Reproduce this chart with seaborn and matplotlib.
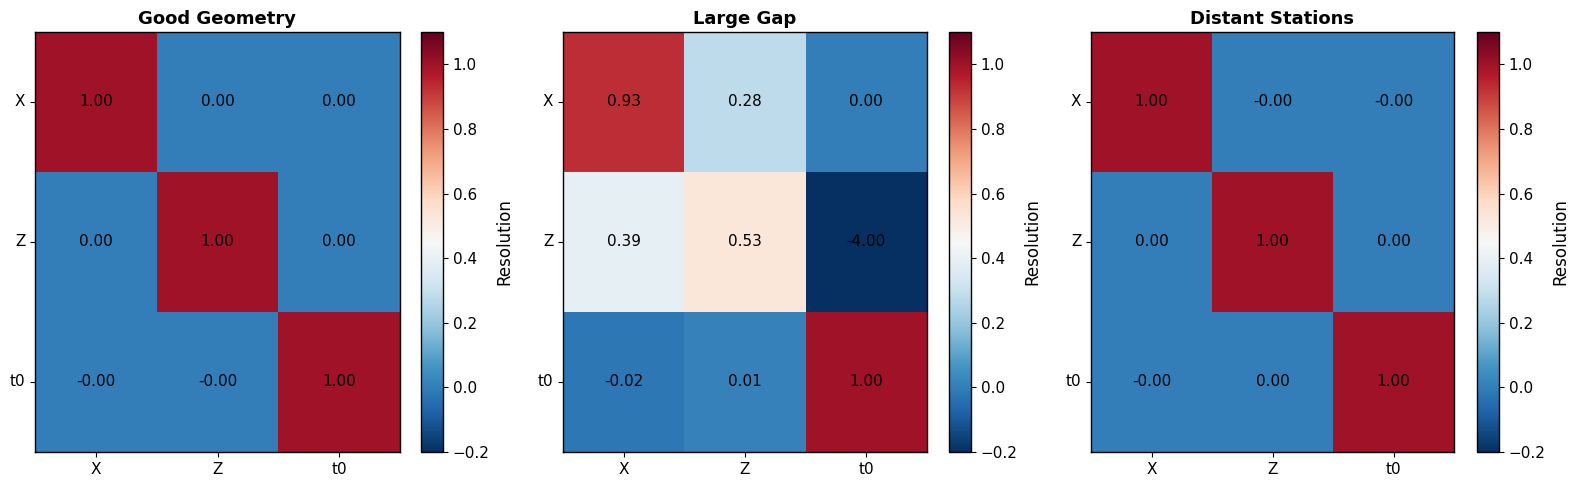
import numpy as np
import pandas as pd
import matplotlib
matplotlib.use("Agg")
import matplotlib.pyplot as plt
import seaborn as sns

params = ["X", "Z", "t0"]
titles = ["Good Geometry", "Large Gap", "Distant Stations"]

good_geometry = [[1.00, 0.00, 0.00],
                 [0.00, 1.00, 0.00],
                 [-0.001, -0.001, 1.00]]
large_gap = [[0.93, 0.28, 0.00],
             [0.39, 0.53, -4.00],
             [-0.02, 0.01, 1.00]]
distant_stations = [[1.00, -0.001, -0.001],
                    [0.00, 1.00, 0.00],
                    [-0.001, 0.00, 1.00]]
matrices = [good_geometry, large_gap, distant_stations]

W, H = 1575, 487
fig = plt.figure(figsize=(W / 100, H / 100), dpi=100)

ax_lefts = [35, 563, 1091]
ax_widths = [365, 364, 363]
cb_lefts = [421, 949, 1477]
cb_width = 22
top, bottom = 32, 452

for i in range(3):
    ax = fig.add_axes([ax_lefts[i] / W, (H - bottom) / H, ax_widths[i] / W, (bottom - top) / H])
    cax = fig.add_axes([cb_lefts[i] / W, (H - bottom) / H, cb_width / W, (bottom - top) / H])
    df = pd.DataFrame(matrices[i], index=params, columns=params)
    sns.heatmap(df, ax=ax, cbar_ax=cax, cmap="RdBu_r", vmin=-0.2, vmax=1.1,
                annot=True, fmt=".2f", annot_kws={"color": "black", "fontsize": 11},
                cbar_kws={"label": "Resolution", "ticks": [-0.2, 0.0, 0.2, 0.4, 0.6, 0.8, 1.0]})
    for s in ax.spines.values():
        s.set_visible(True)
        s.set_linewidth(1.0)
        s.set_color("black")
    ax.set_title(titles[i], fontsize=13, fontweight="bold")
    ax.tick_params(axis="both", labelsize=11, length=3.5)
    ax.set_yticklabels(params, rotation=0)
    ax.set_xticklabels(params, rotation=0)
    cb = ax.collections[0].colorbar
    cb.outline.set_visible(True)
    cb.outline.set_linewidth(1.0)
    cb.ax.tick_params(labelsize=11)
    cb.set_label("Resolution", fontsize=12)

fig.savefig("out.png", dpi=100)
